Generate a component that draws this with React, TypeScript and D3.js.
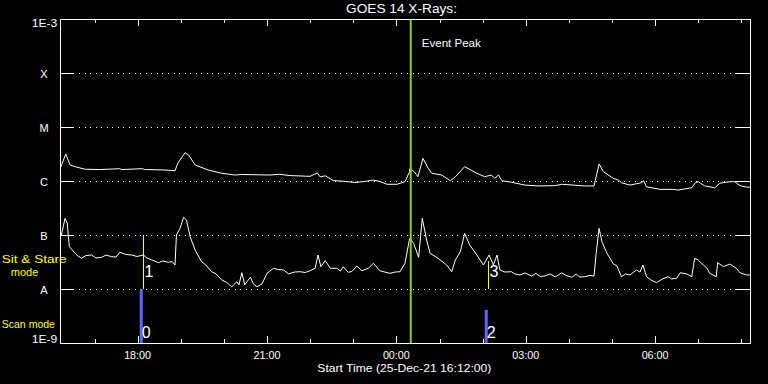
import React, { useEffect } from 'react';
import * as d3 from 'd3';

// ---- data (times in minutes after 25-Dec-21 16:12:00 UT) ----
const START = Date.UTC(2021, 11, 25, 16, 12);
const SPAN_MIN = 960;

const title = 'GOES 14 X-Rays:';
const xAxisTitle = 'Start Time (25-Dec-21 16:12:00)';
const levelValues = [1e-3, 1e-4, 1e-5, 1e-6, 1e-7, 1e-8, 1e-9];
const levelLabels = ['1E-3', 'X', 'M', 'C', 'B', 'A', '1E-9'];

// long channel (1-8 A), flux in units of 1e-6 W/m^2
const longMin = [1, 8, 14, 21, 35, 56, 83, 86, 115, 118, 146, 160, 164, 174, 179, 188, 206, 225, 243, 253,
  292, 306, 320, 348, 358, 362, 369, 380, 397, 410, 424, 435, 445, 455, 469, 480, 486, 487, 493, 498,
  505, 512, 517, 531, 543, 550, 563, 580, 591, 600, 605, 610, 615, 628, 647, 665, 689, 698, 730, 743,
  750, 756, 770, 777, 781, 793, 809, 812, 816, 835, 853, 860, 879, 884, 888, 893, 897, 911, 918, 932,
  939, 946, 955, 960];
const longFluxE6 = [1.80, 3.16, 1.98, 1.84, 1.65, 1.63, 1.69, 1.63, 1.69, 1.63,
  1.60, 1.55, 2.15, 3.34, 3.03, 1.98, 1.60, 1.39, 1.29, 1.32,
  1.29, 1.33, 1.26, 1.22, 1.41, 1.19, 1.25, 1.02, 0.98, 0.94,
  0.98, 1.04, 0.98, 0.87, 0.87, 0.97, 1.45, 1.72, 1.47, 1.20,
  2.63, 1.74, 1.39, 1.29, 1.01, 1.19, 1.84, 1.39, 1.20, 1.29,
  1.12, 1.29, 1.01, 0.95, 0.84, 0.81, 0.82, 0.87, 0.81, 0.81,
  2.06, 1.49, 1.12, 1.04, 0.93, 0.84, 0.93, 1.01, 0.78, 0.70,
  0.70, 0.68, 0.75, 0.93, 0.97, 0.88, 0.81, 0.75, 0.91, 0.97,
  0.97, 0.82, 0.77, 0.77];

// short channel (0.5-4 A), flux in units of 1e-8 W/m^2
const shortMin = [2, 7, 10, 13, 21, 25, 30, 36, 44, 50, 58, 64, 72, 78, 83, 92, 100, 107, 116, 121,
  128, 137, 143, 151, 156, 160, 162, 167, 172, 176, 181, 188, 197, 203, 211, 217, 225, 231, 239, 246,
  249, 253, 257, 262, 265, 269, 274, 281, 288, 297, 303, 311, 318, 326, 334, 341, 348, 355, 359, 363,
  369, 376, 385, 390, 394, 401, 406, 413, 420, 429, 436, 445, 452, 459, 466, 473, 480, 486, 487, 492,
  499, 504, 510, 515, 526, 538, 545, 550, 557, 563, 570, 580, 589, 597, 603, 608, 612, 619, 628, 633,
  640, 647, 656, 662, 668, 675, 682, 689, 698, 704, 712, 718, 723, 730, 737, 743, 746, 750, 754, 761,
  770, 775, 781, 787, 793, 802, 807, 811, 816, 822, 830, 838, 846, 851, 858, 863, 872, 879, 883, 888,
  895, 900, 904, 913, 915, 923, 932, 941, 946, 955, 960];
const shortFluxE8 = [10.0, 20.4, 16.7, 6.07, 4.58, 4.08, 3.70, 4.17, 4.26, 3.75,
  3.86, 4.26, 3.96, 3.91, 4.78, 4.35, 4.26, 4.00, 4.26, 3.75,
  3.44, 3.07, 3.30, 3.12, 3.23, 2.78, 10.0, 13.3, 21.3, 18.9,
  9.31, 5.27, 3.20, 2.78, 2.09, 1.90, 1.47, 1.35, 1.10, 1.36,
  1.19, 2.00, 1.19, 1.47, 1.65, 1.24, 1.10, 1.24, 1.95, 2.42,
  2.30, 2.25, 1.90, 2.06, 2.09, 2.02, 2.18, 2.42, 4.26, 2.59,
  3.34, 2.42, 2.42, 2.15, 2.59, 2.04, 2.11, 2.67, 2.18, 2.42,
  2.99, 2.18, 2.06, 1.95, 2.06, 2.09, 2.99, 8.08, 8.69, 7.02,
  3.86, 20.4, 8.08, 4.58, 3.70, 2.78, 2.09, 3.44, 4.91, 10.7,
  6.53, 4.26, 2.78, 4.26, 2.78, 4.26, 2.25, 2.06, 2.09, 1.90,
  1.82, 1.98, 1.74, 1.94, 1.71, 1.74, 1.90, 1.67, 2.00, 1.78,
  1.65, 1.90, 1.67, 1.69, 1.78, 1.74, 4.58, 13.3, 7.51, 4.58,
  2.90, 2.67, 1.69, 1.90, 1.82, 2.25, 2.06, 2.78, 1.69, 1.47,
  1.31, 1.53, 1.69, 1.53, 1.58, 2.00, 1.90, 1.69, 3.70, 3.44,
  2.78, 2.45, 1.95, 1.69, 3.07, 2.59, 2.90, 2.42, 2.00, 1.82,
  1.82];

const eventPeakMin = 488;
const eventLabel = 'Event Peak';
const scanMin = [113, 593];
const scanTop = [1e-8, 4.1e-9];
const scanLabels = ['0', '2'];
const stareMin = [116, 596];
const stareTop = [1e-7, 3.3e-8];
const stareLabels = ['1', '3'];
const stareModeLines = ['Sit & Stare', 'mode'];
const scanModeLabel = 'Scan mode';

type Pt = { t: Date; f: number };

export default function App() {
  useEffect(() => {
    document.body.style.margin = '0';
    document.body.style.background = '#000';
  }, []);

  const W = 768, H = 384;
  const L = 60, R = 750, T = 19, B = 343;
  const FONT = '"Liberation Sans", Arial, sans-serif';
  const toDate = (m: number) => new Date(START + m * 60000);
  const x = d3.scaleUtc().domain([toDate(0), toDate(SPAN_MIN)]).range([L, R]);
  const y = d3.scaleLog().domain([1e-9, 1e-3]).range([B, T]);

  const longData: Pt[] = longMin.map((m, i) => ({ t: toDate(m), f: longFluxE6[i] * 1e-6 }));
  const shortData: Pt[] = shortMin.map((m, i) => ({ t: toDate(m), f: shortFluxE8[i] * 1e-8 }));
  const line = d3.line<Pt>().x(d => x(d.t)).y(d => y(d.f));

  const hours = x.ticks(d3.utcHour.every(1) as any);
  const isMajor = (d: Date) => d.getUTCHours() % 3 === 0;
  const fmt = d3.utcFormat('%H:%M');

  const interior = levelValues.slice(1, -1);

  return (
    <svg width={W} height={H} style={{ position: 'absolute', left: 0, top: 0, display: 'block', background: '#000' }}
      fontFamily={FONT}>
      <rect x={0} y={0} width={W} height={H} fill="#000" />

      {/* dotted grid */}
      {interior.map((v, i) => (
        <line key={'g' + i} x1={79} x2={736} y1={y(v)} y2={y(v)} stroke="#fff" strokeWidth={1}
          strokeDasharray="1 4.56" shapeRendering="crispEdges" />
      ))}
      {/* y ticks left & right */}
      {interior.map((v, i) => (
        <g key={'yt' + i} shapeRendering="crispEdges">
          <line x1={L} x2={L + 14} y1={y(v)} y2={y(v)} stroke="#fff" />
          <line x1={R - 14} x2={R} y1={y(v)} y2={y(v)} stroke="#fff" />
        </g>
      ))}

      {/* curves */}
      <path d={line(longData) || ''} fill="none" stroke="#fff" strokeWidth={1} />
      <path d={line(shortData) || ''} fill="none" stroke="#fff" strokeWidth={1} />

      {/* scan mode bars */}
      {scanMin.map((m, i) => (
        <g key={'s' + i}>
          <rect x={x(toDate(m)) - 1.5} y={y(scanTop[i])} width={3} height={y(1e-9) - y(scanTop[i])} fill="#6464ff" />
          <text x={x(toDate(m)) + 0.5} y={y(1e-9) - 4.7} fill="#fff" fontSize={16}>{scanLabels[i]}</text>
        </g>
      ))}
      {/* sit & stare lines */}
      {stareMin.map((m, i) => (
        <g key={'st' + i}>
          <line x1={x(toDate(m))} x2={x(toDate(m))} y1={y(stareTop[i])} y2={y(1e-8)} stroke="#ffff00" strokeWidth={1}
            shapeRendering="crispEdges" />
          <text x={x(toDate(m)) + 1} y={y(1e-8) - 12} fill="#fff" fontSize={16}>{stareLabels[i]}</text>
        </g>
      ))}

      {/* event peak */}
      <rect x={x(toDate(eventPeakMin)) - 1} y={T} width={2} height={B - T} fill="#9acd00" />
      <text x={x(toDate(eventPeakMin)) + 11} y={46.7} fill="#fff" fontSize={11} textLength={59}
        lengthAdjust="spacingAndGlyphs">{eventLabel}</text>

      {/* frame */}
      <rect x={L} y={T} width={R - L} height={B - T} fill="none" stroke="#fff" strokeWidth={1} shapeRendering="crispEdges" />

      {/* x ticks */}
      {hours.map((d, i) => {
        const len = isMajor(d) ? 7 : 4;
        const xx = Math.round(x(d));
        return (
          <g key={'xt' + i} shapeRendering="crispEdges">
            <line x1={xx} x2={xx} y1={T} y2={T + len} stroke="#fff" />
            <line x1={xx} x2={xx} y1={B} y2={B - len} stroke="#fff" />
          </g>
        );
      })}
      {hours.filter(isMajor).map((d, i) => (
        <text key={'xl' + i} x={x(d) - 13.5} y={359} fill="#fff" fontSize={10.5} textLength={27}
          lengthAdjust="spacingAndGlyphs">{fmt(d)}</text>
      ))}

      {/* y labels */}
      {levelLabels.map((lab, i) => {
        const v = levelValues[i];
        if (i === 0)
          return <text key={'yl' + i} x={31.7} y={y(v) + 7.7} fill="#fff" fontSize={11} textLength={25.6}
            lengthAdjust="spacingAndGlyphs">{lab}</text>;
        if (i === levelLabels.length - 1)
          return <text key={'yl' + i} x={31.7} y={y(v)} fill="#fff" fontSize={11} textLength={25.6}
            lengthAdjust="spacingAndGlyphs">{lab}</text>;
        return <text key={'yl' + i} x={44} y={y(v) + 4.7} fill="#fff" fontSize={11} textAnchor="middle">{lab}</text>;
      })}

      {/* titles */}
      <text x={346} y={13.3} fill="#fff" fontSize={12} textLength={111} lengthAdjust="spacingAndGlyphs">{title}</text>
      <text x={317.3} y={371.5} fill="#fff" fontSize={11.5} textLength={174} lengthAdjust="spacingAndGlyphs">{xAxisTitle}</text>

      {/* mode labels */}
      <text x={1.7} y={262.5} fill="#ffff00" fontSize={11} textLength={65} lengthAdjust="spacingAndGlyphs">{stareModeLines[0]}</text>
      <text x={24.5} y={275.5} fill="#ffff00" fontSize={11} textAnchor="middle">{stareModeLines[1]}</text>
      <text x={1.7} y={327.7} fill="#ffff00" fontSize={11} textLength={53.3} lengthAdjust="spacingAndGlyphs">{scanModeLabel}</text>
    </svg>
  );
}
